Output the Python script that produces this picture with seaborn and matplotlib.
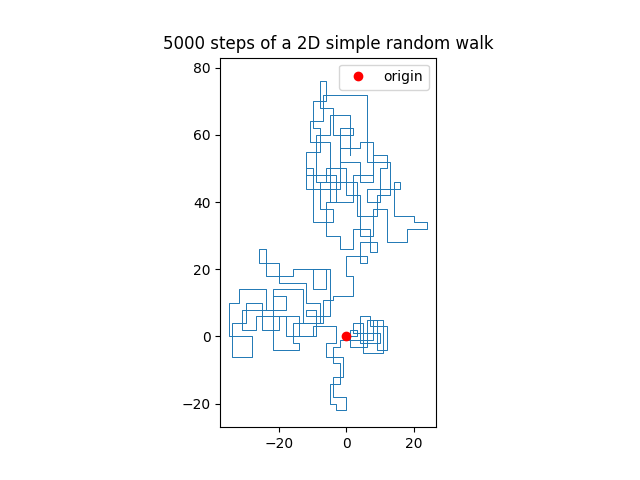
import matplotlib
matplotlib.use("Agg")
import matplotlib.pyplot as plt
import seaborn as sns

# Waypoints of the walk (lattice path drawn as steps)
walk_x = [0, 3, 1, 6, 9, 12, 7, 4, 10, 2, 5, 11, 8, -2, -4, -2, -5, -3, 0, -4, -1, -6, -3,
          -10, -14, -20, -25, -30, -34, -28, -35, -32, -24, -18, -22, -14, -16, -8, -12, -20,
          -26, -24, -16, -6, -10, -5, -12, -9, -18, -27, -31, -22, -13, -7,
          -4, 2, 0, 6, 4, 9, 7, 2, -2, -6, -3, -12, -8, -10, -6, -8, -4, 2, -2, 4, 8, 12,
          10, 6, 16, 14, 20, 24, 18, 12, 8, 4, 0, -6, -8, -4, -10, -12, -2, 4, 8, 2,
          -5, -11, -7, 6, 13, 9, 3, -9, -5, 1]
walk_y = [0, 2, -3, 5, -4, 3, 6, -2, 1, 4, -5, 5, -1, -3, -8, -14, -20, -22, -18, -12, -6, -2, 3,
          0, 6, 2, 10, 4, -6, 0, 10, 14, 8, 12, -4, -2, 4, 10, 16, 22,
          26, 18, 20, 14, 20, 6, 8, 0, 6, 2, 8, 14, 4, 11,
          12, 18, 24, 22, 28, 25, 32, 26, 30, 40, 48, 55, 62, 70, 76, 68, 60, 62, 52, 46, 54, 50,
          40, 44, 46, 36, 34, 32, 28, 38, 30, 42, 50, 46, 38, 34, 50, 44, 56, 58, 48, 40,
          58, 64, 72, 52, 42, 36, 46, 60, 66, 54]

fig, ax = plt.subplots(figsize=(6.4, 4.8), dpi=100)
sns.lineplot(x=walk_x, y=walk_y, sort=False, estimator=None, ax=ax,
             drawstyle="steps-post", lw=0.7, color="C0")
ax.plot([0], [0], "o", color="red", label="origin")
ax.set_xlim(-37.5, 26.5)
ax.set_ylim(-27, 83)
ax.set_aspect("equal")
ax.set_xticks([-20, 0, 20])
ax.set_yticks([-20, 0, 20, 40, 60, 80])
ax.set_title("5000 steps of a 2D simple random walk")
ax.legend(loc="upper right")
fig.savefig("out.png", dpi=100)
